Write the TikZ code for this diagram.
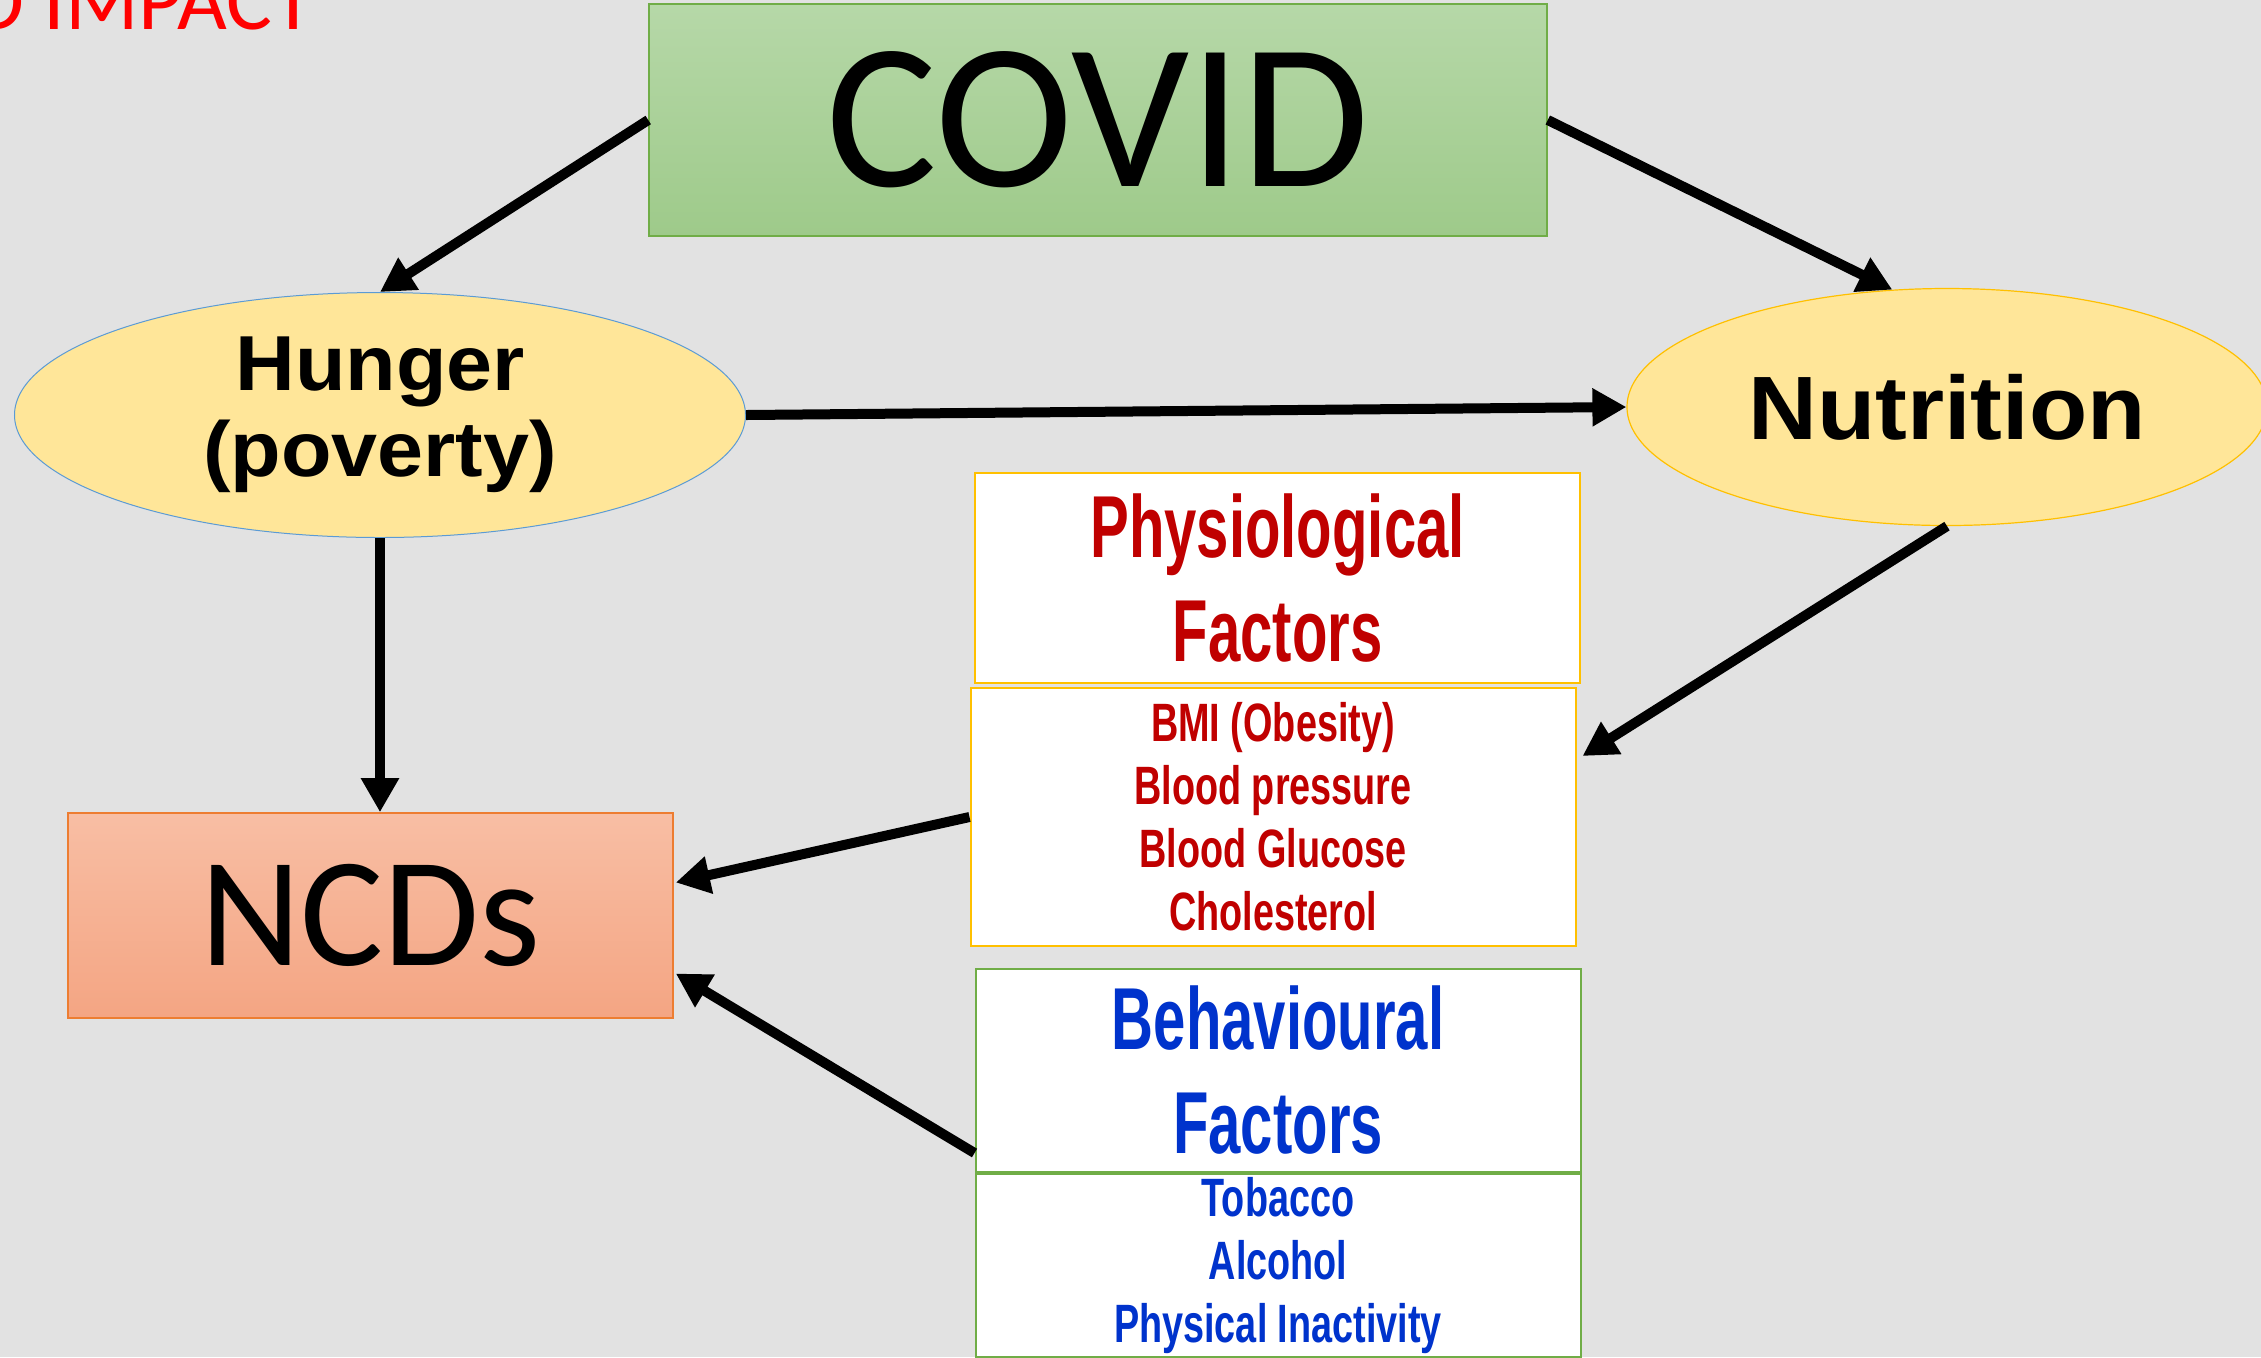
\documentclass[tikz,border=0pt]{standalone}
\usepackage{fontspec}
\setmainfont{Carlito}
\newfontfamily\heavyfont[FakeStretch=1.06]{Liberation Sans}
\newfontfamily\headfont[FakeStretch=0.66]{Liberation Sans}
\newfontfamily\itemfont[FakeStretch=0.70]{Liberation Sans}
\usetikzlibrary{arrows.meta,shapes.geometric,calc,positioning}

\definecolor{bggrey}{RGB}{226,226,226}
\definecolor{covidtop}{RGB}{182,216,168}
\definecolor{covidbot}{RGB}{158,202,138}
\definecolor{covidline}{RGB}{112,173,71}
\definecolor{ncdtop}{RGB}{248,190,164}
\definecolor{ncdbot}{RGB}{244,165,131}
\definecolor{ncdline}{RGB}{237,125,49}
\definecolor{ellfill}{RGB}{255,230,153}
\definecolor{hungline}{RGB}{91,155,213}
\definecolor{gold}{RGB}{255,192,0}
\definecolor{physred}{RGB}{192,0,0}
\definecolor{behblue}{RGB}{0,51,204}

\begin{document}
\begin{tikzpicture}[x=0.5pt, y=-0.5pt,
		bigbox/.style = {rectangle, inner sep=0pt, text=black, font=\fontsize{104}{110}\selectfont},
		covidbox/.style = {bigbox, draw=covidline, line width=0.8pt, top color=covidtop, bottom color=covidbot,
				minimum width=449pt, minimum height=116pt},
		ncdbox/.style = {bigbox, draw=ncdline, line width=0.8pt, top color=ncdtop, bottom color=ncdbot,
				minimum width=302.5pt, minimum height=102.5pt, font=\fontsize{78}{82}\selectfont},
		causeell/.style = {ellipse, fill=ellfill, inner sep=0pt, align=center, text=black},
		factorbox/.style = {rectangle, fill=white, inner sep=0pt, align=center, line width=1pt, minimum width=302.5pt},
		headtxt/.style = {factorbox, font=\headfont\bfseries\fontsize{44}{52}\selectfont},
		itemtxt/.style = {factorbox, font=\itemfont\bfseries\fontsize{27}{31.5}\selectfont},
		arrowline/.style = {line width=5pt, -{Triangle[length=17pt,width=18pt]}}
	]
	\useasboundingbox (0,0) rectangle (2261,1357);
	\fill[bggrey] (0,0) rectangle (2261,1357);
	\clip (0,0) rectangle (2261,1357);

	% title left over at the top corner
	\node [anchor=base west, inner sep=0pt, text={rgb,255:red,255;green,0;blue,0},
		font=\fontsize{43}{47}\selectfont] (impact) at (-29,29) {D IMPACT};

	\node [covidbox] (covid) at (1098,120) {COVID};
	\node [causeell, draw=hungline, line width=0.5pt, minimum width=365.5pt, minimum height=122.5pt,
		font=\heavyfont\bfseries\fontsize{39}{43}\selectfont] (hunger) at (380,415) {Hunger\\(poverty)};
	\node [causeell, draw=gold, line width=0.6pt, minimum width=320pt, minimum height=118.5pt,
		font=\heavyfont\bfseries\fontsize{45}{50}\selectfont] (nutrition) at (1947,407) {Nutrition};
	\node [ncdbox] (ncds) at (370.5,915.5) {NCDs};

	% physiological
	\node [headtxt, draw=gold, text=physred, minimum height=105pt] (physhead) at (1277.5,578) {Physiological\\Factors};
	\node [itemtxt, draw=gold, text=physred, minimum height=129pt] (physlist) at (1273,817)
		{BMI (Obesity)\\Blood pressure\\Blood Glucose\\Cholesterol};

	% behavioural
	\node [headtxt, draw=covidline, text=behblue, minimum height=101.5pt] (behhead) at (1278,1070.5) {Behavioural\\Factors};
	\node [itemtxt, draw=covidline, text=behblue, minimum height=91.5pt, below=0pt of behhead] (behlist)
		{Tobacco\\Alcohol\\Physical Inactivity};

	\draw [arrowline] (covid.west) -- (hunger.north);
	\draw [arrowline] (covid.east) -- (nutrition.115);
	\draw [arrowline] (hunger.east) -- (nutrition.west);
	\draw [arrowline] (hunger.south) -- (hunger.south |- ncds.north);
	\draw [arrowline] (nutrition.south) -- ($(physlist.east)+(6,-61)$);
	\draw [arrowline] (physlist.west) -- ($(ncds.east)+(2,-33)$);
	\draw [arrowline] ($(behhead.south west)+(0,-20)$) -- ($(ncds.east)+(2,58)$);
\end{tikzpicture}
\end{document}
